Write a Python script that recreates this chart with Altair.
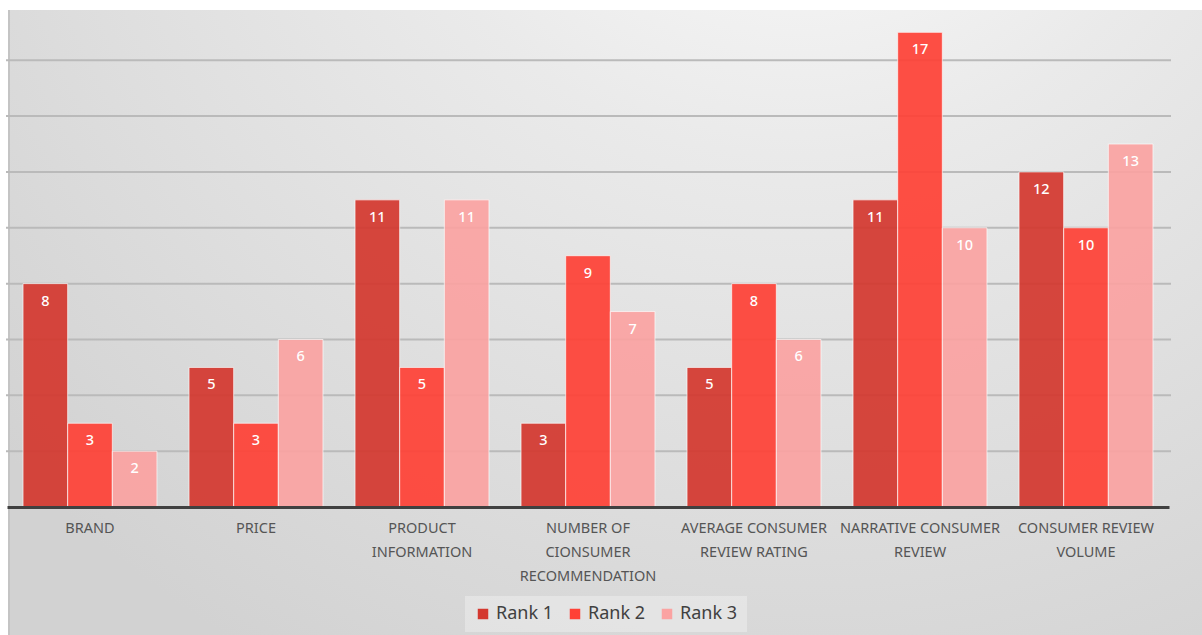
import altair as alt
import pandas as pd

categories = [
    "BRAND",
    "PRICE",
    "PRODUCT|INFORMATION",
    "NUMBER OF|CIONSUMER|RECOMMENDATION",
    "AVERAGE CONSUMER|REVIEW RATING",
    "NARRATIVE CONSUMER|REVIEW",
    "CONSUMER REVIEW|VOLUME",
]
series = ["Rank 1", "Rank 2", "Rank 3"]
rank1 = [8, 5, 11, 3, 5, 11, 12]
rank2 = [3, 3, 5, 9, 8, 17, 10]
rank3 = [2, 6, 11, 7, 6, 10, 13]
colors = ["#D4382F", "#FF4136", "#FBA3A2"]
grid_values = [2, 4, 6, 8, 10, 12, 14, 16]

rows = []
for s, vals in zip(series, [rank1, rank2, rank3]):
    for c, v in zip(categories, vals):
        rows.append({"category": c, "rank": s, "value": v})
df = pd.DataFrame(rows)
grid_df = pd.DataFrame({"g": grid_values})

W, H = 1162, 497
FONT = "Noto Sans"
YSCALE = alt.Scale(domain=[0, 17.8], nice=False, zero=True)

bg = alt.Chart(pd.DataFrame({"k": [0]})).mark_rect(
    color=alt.RadialGradient(
        gradient="radial",
        x1=0.66, y1=0.0, r1=0.0,
        x2=0.66, y2=0.0, r2=0.9,
        stops=[
            alt.GradientStop(offset=0, color="#ffffff"),
            alt.GradientStop(offset=0.4, color="#eaeaea"),
            alt.GradientStop(offset=1, color="#d2d2d2"),
        ],
    )
).encode(x=alt.value(1), x2=alt.value(1195), y=alt.value(0), y2=alt.value(625))

edge = alt.Chart(pd.DataFrame({"k": [0]})).mark_rule(color="#c4c4c4", strokeWidth=2).encode(
    x=alt.value(2), y=alt.value(0), y2=alt.value(625)
)

grid = alt.Chart(grid_df).mark_rule(color="#bababa", strokeWidth=2).encode(
    y=alt.Y("g:Q", scale=YSCALE, axis=None),
    x=alt.value(-1),
    x2=alt.value(1164),
)

x_enc = alt.X(
    "category:N",
    sort=categories,
    scale=alt.Scale(paddingInner=0.193, paddingOuter=0.0965),
    axis=alt.Axis(
        title=None,
        labelExpr="split(datum.label, '|')",
        labelAngle=0,
        labelFontSize=14.5,
        labelColor="#555555",
        labelFont=FONT,
        labelLineHeight=24,
        labelPadding=14,
        labelLimit=0,
        ticks=False,
        domainColor="#404040",
        domainWidth=3,
        grid=False,
        zindex=1,
    ),
)
y_enc = alt.Y("value:Q", scale=YSCALE, axis=None)

bars = alt.Chart(df).mark_bar(stroke="#ffffff", strokeWidth=1, strokeOpacity=0.7, opacity=0.92).encode(
    x=x_enc,
    xOffset=alt.XOffset("rank:N", sort=series),
    y=y_enc,
    color=alt.Color(
        "rank:N",
        sort=series,
        scale=alt.Scale(domain=series, range=colors),
        legend=alt.Legend(
            title=None,
            orient="none",
            legendX=458,
            legendY=586,
            direction="horizontal",
            symbolType="square",
            symbolSize=110,
            symbolStrokeWidth=0,
            symbolOpacity=1,
            labelFontSize=18,
            labelFont=FONT,
            labelColor="#404040",
            columnPadding=12,
            padding=9,
            fillColor="rgba(255,255,255,0.3)",
        ),
    ),
)

labels = alt.Chart(df).mark_text(
    color="white", fontSize=14.5, font=FONT, fontWeight=500, baseline="middle", dy=18
).encode(
    x=alt.X("category:N", sort=categories),
    xOffset=alt.XOffset("rank:N", sort=series),
    y=alt.Y("value:Q", scale=YSCALE),
    text=alt.Text("value:Q"),
)

chart = (
    alt.layer(bg, edge, grid, bars, labels)
    .properties(
        width=W,
        height=H,
        autosize=alt.AutoSizeParams(type="none"),
        padding={"left": 7, "top": 10, "right": 33, "bottom": 128},
        background="white",
    )
    .configure_view(stroke=None)
)

chart.save("out.html", embed_options={"renderer": "svg", "actions": False})
